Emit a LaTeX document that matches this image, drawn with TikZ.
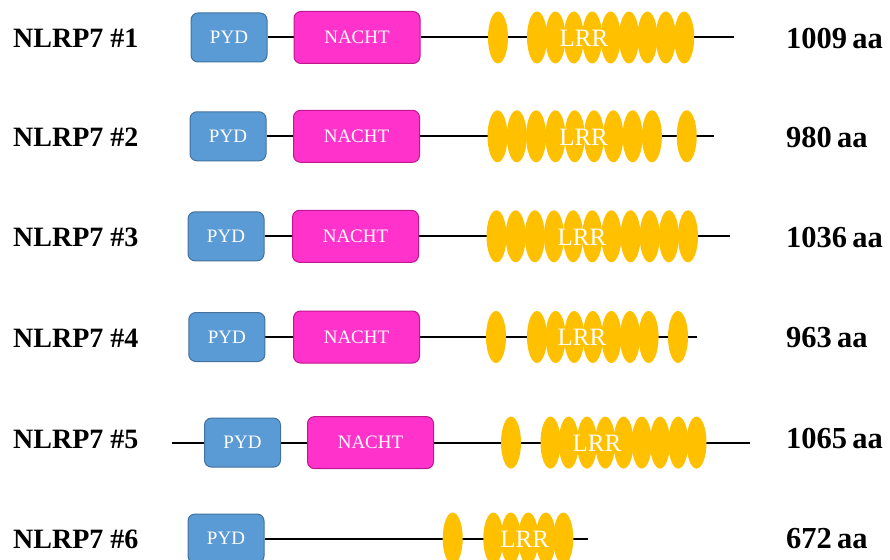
\documentclass[tikz,border=0pt]{standalone}
\usepackage{fontspec}
\setmainfont{Liberation Serif}
\usetikzlibrary{shapes.geometric,backgrounds}
\definecolor{pydfill}{HTML}{5B9BD5}
\definecolor{pyddraw}{HTML}{41719C}
\definecolor{nachtfill}{HTML}{FF33CC}
\definecolor{nachtdraw}{HTML}{C0168F}
\definecolor{lrrfill}{HTML}{FFC000}
\begin{document}
\begin{tikzpicture}[x=1pt,y=-1pt,
  pydbox/.style={draw=pyddraw, fill=pydfill, line width=1pt, rounded corners=7pt,
    minimum width=76pt, minimum height=49pt, inner sep=0pt, text=white,
    font=\fontsize{19}{20}\selectfont},
  nachtbox/.style={draw=nachtdraw, fill=nachtfill, line width=1pt, rounded corners=7pt,
    minimum width=126pt, minimum height=52pt, inner sep=0pt, text=white,
    font=\fontsize{19}{20}\selectfont},
  lrrell/.style={ellipse, fill=lrrfill, minimum width=20pt, minimum height=52pt, inner sep=0pt},
  lrrtext/.style={text=white, inner sep=0pt, font=\fontsize{25}{28}\selectfont},
  backbone/.style={line width=2pt, black},
  namelab/.style={anchor=west, inner sep=0pt, font=\bfseries\fontsize{28}{30}\selectfont},
  sizelab/.style={anchor=west, inner sep=0pt, font=\bfseries\fontsize{30.5}{32}\selectfont}
]
\useasboundingbox (0,0) rectangle (890,559);

% ---------- Row 1 ----------
\node[namelab] (n1) at (13,38.5) {NLRP7 \#1};
\node[sizelab] (s1) at (786,38.5) {1009\,aa};
\node[pydbox] (p1) at (229,37.5) {PYD};
\node[nachtbox] (c1) at (357,37.5) {NACHT};
\node[lrrell] (a1) at (498,37.5) {};
\foreach \i in {0,...,8} \node[lrrell] (l1-\i) at (537+18.4*\i,37.5) {};
\node[lrrtext] (t1) at (584,38) {LRR};
\coordinate (e1) at (734,37.5);

% ---------- Row 2 ----------
\node[namelab] (n2) at (13,137.5) {NLRP7 \#2};
\node[sizelab] (s2) at (786,137.5) {980\,aa};
\node[pydbox] (p2) at (228,136.3) {PYD};
\node[nachtbox] (c2) at (356.5,136.3) {NACHT};
\foreach \i in {0,...,8} \node[lrrell] (l2-\i) at (497.5+19.3*\i,136.3) {};
\node[lrrell] (b2) at (686.7,136.3) {};
\node[lrrtext] (t2) at (583.6,137) {LRR};
\coordinate (e2) at (714,136.3);

% ---------- Row 3 ----------
\node[namelab] (n3) at (13,237.5) {NLRP7 \#3};
\node[sizelab] (s3) at (786,237.5) {1036\,aa};
\node[pydbox] (p3) at (226,236.3) {PYD};
\node[nachtbox] (c3) at (355.5,236.3) {NACHT};
\foreach \i in {0,...,10} \node[lrrell] (l3-\i) at (496.5+19.15*\i,236.3) {};
\node[lrrtext] (t3) at (582,237) {LRR};
\coordinate (e3) at (730,236.3);

% ---------- Row 4 ----------
\node[namelab] (n4) at (13,338) {NLRP7 \#4};
\node[sizelab] (s4) at (786,338) {963\,aa};
\node[pydbox] (p4) at (226.8,337) {PYD};
\node[nachtbox] (c4) at (356.5,337) {NACHT};
\node[lrrell] (a4) at (496,337) {};
\foreach \i in {0,...,6} \node[lrrell] (l4-\i) at (537+18.6*\i,337) {};
\node[lrrell] (b4) at (678,337) {};
\node[lrrtext] (t4) at (582,337.5) {LRR};
\coordinate (e4) at (697,337);

% ---------- Row 5 ----------
\node[namelab] (n5) at (13,439) {NLRP7 \#5};
\node[sizelab] (s5) at (786,439) {1065\,aa};
\coordinate (f5) at (171.5,442.6);
\node[pydbox] (p5) at (242.5,442.6) {PYD};
\node[nachtbox] (c5) at (370.5,442.6) {NACHT};
\node[lrrell] (a5) at (511,442.6) {};
\foreach \i in {0,...,8} \node[lrrell] (l5-\i) at (550.5+18.25*\i,442.6) {};
\node[lrrtext] (t5) at (597,443) {LRR};
\coordinate (e5) at (750,442.6);

% ---------- Row 6 ----------
\node[namelab] (n6) at (13,539) {NLRP7 \#6};
\node[sizelab] (s6) at (786,539) {672\,aa};
\node[pydbox] (p6) at (226,538.5) {PYD};
\node[lrrell] (a6) at (452.7,538.5) {};
\foreach \i in {0,...,4} \node[lrrell] (l6-\i) at (493.3+17.5*\i,538.5) {};
\node[lrrtext] (t6) at (524.7,539) {LRR};
\coordinate (e6) at (588,538.5);

% ---------- backbones ----------
\begin{pgfonlayer}{background}
\draw[backbone] (p1.east) -- (c1.west);
\draw[backbone] (c1.east) -- (e1);
\draw[backbone] (p2.east) -- (c2.west);
\draw[backbone] (c2.east) -- (e2);
\draw[backbone] (p3.east) -- (c3.west);
\draw[backbone] (c3.east) -- (e3);
\draw[backbone] (p4.east) -- (c4.west);
\draw[backbone] (c4.east) -- (e4);
\draw[backbone] (f5) -- (p5.west);
\draw[backbone] (p5.east) -- (c5.west);
\draw[backbone] (c5.east) -- (e5);
\draw[backbone] (p6.east) -- (e6);
\end{pgfonlayer}
\end{tikzpicture}
\end{document}
